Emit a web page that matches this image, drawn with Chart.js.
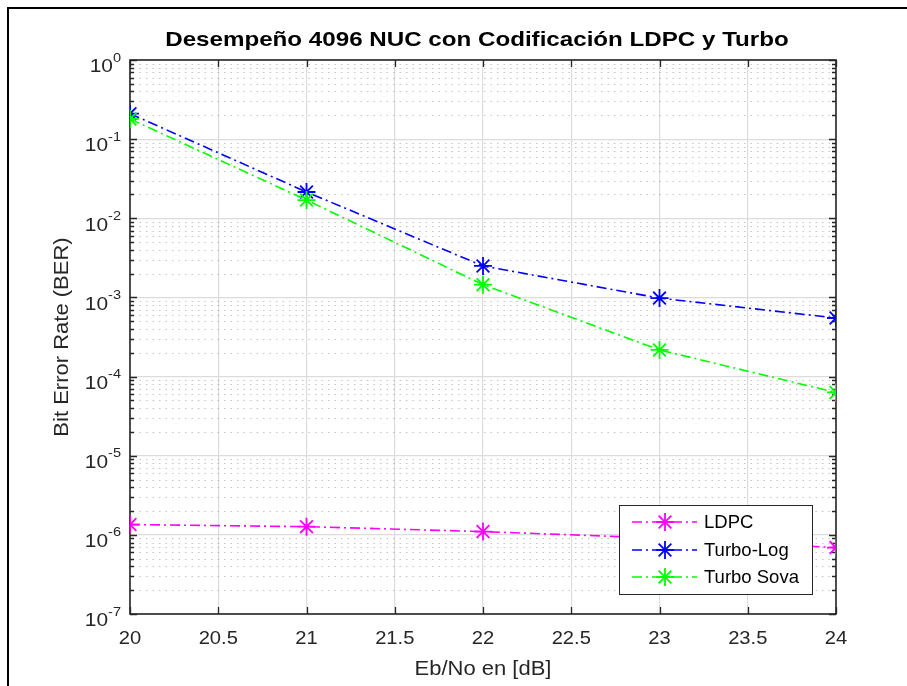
<!DOCTYPE html>
<html>
<head>
<meta charset="utf-8">
<script src="https://cdn.jsdelivr.net/npm/chart.js@4/dist/chart.umd.min.js"></script>
<style>
  html, body { margin: 0; padding: 0; background: #ffffff; }
  #wrap { width: 907px; height: 686px; position: relative; }
</style>
</head>
<body>
<div id="wrap"><canvas id="c" width="907" height="686"></canvas></div>
<script>
// Eb/No points (dB)
const ebno = [20, 21, 22, 23, 24];
// Bit error rate per coding scheme
const berLdpc = [1.35e-6, 1.27e-6, 1.1e-6, 9.1e-7, 6.9e-7];
const berTurboLog = [0.21, 0.0215, 0.0025, 9.8e-4, 5.5e-4];
const berTurboSova = [0.18, 0.017, 0.00145, 2.17e-4, 6.3e-5];

const seriesNames = ['LDPC', 'Turbo-Log', 'Turbo Sova'];
const seriesColors = ['#ff00ff', '#0000ff', '#00ff00'];

// Axis ticks
const xTicks = [20, 20.5, 21, 21.5, 22, 22.5, 23, 23.5, 24];
const yExponents = [0, -1, -2, -3, -4, -5, -6, -7];

const titleText = 'Desempeño 4096 NUC con Codificación LDPC y Turbo';
const xTitle = 'Eb/No en [dB]';
const yTitle = 'Bit Error Rate (BER)';

const AXIS = '#262626';
const FONT = '"Liberation Sans", Arial, Helvetica, sans-serif';
const DASH = [10, 4, 2, 4];

function toPoints(arr) { return ebno.map((x, i) => ({ x: x, y: arr[i] })); }

function makeSet(i, arr, order) {
  return {
    label: seriesNames[i],
    data: toPoints(arr),
    borderColor: seriesColors[i],
    backgroundColor: seriesColors[i],
    borderWidth: 1.6,
    borderDash: DASH,
    pointStyle: 'star',
    pointRadius: 9,
    pointHoverRadius: 9,
    pointBorderWidth: 1.8,
    pointBorderColor: seriesColors[i],
    tension: 0,
    fill: false,
    order: order
  };
}

// text helper with optional horizontal stretch
function text(ctx, str, x, y, font, align, sx) {
  ctx.save();
  ctx.font = font;
  ctx.textBaseline = 'middle';
  ctx.textAlign = 'left';
  const w = ctx.measureText(str).width * sx;
  let left = x;
  if (align === 'center') left = x - w / 2;
  else if (align === 'right') left = x - w;
  ctx.translate(left, y);
  ctx.scale(sx, 1);
  ctx.fillText(str, 0, 0);
  ctx.restore();
  return w;
}

function star(ctx, x, y, r, color) {
  ctx.save();
  ctx.strokeStyle = color;
  ctx.lineWidth = 1.8;
  ctx.setLineDash([]);
  ctx.beginPath();
  ctx.moveTo(x - r, y); ctx.lineTo(x + r, y);
  ctx.moveTo(x, y - r); ctx.lineTo(x, y + r);
  const d = r * Math.SQRT1_2;
  ctx.moveTo(x - d, y - d); ctx.lineTo(x + d, y + d);
  ctx.moveTo(x - d, y + d); ctx.lineTo(x + d, y - d);
  ctx.stroke();
  ctx.restore();
}

const figurePlugin = {
  id: 'figureDecor',
  beforeDraw(chart) {
    const ctx = chart.ctx;
    ctx.save();
    ctx.fillStyle = '#ffffff';
    ctx.fillRect(0, 0, chart.width, chart.height);
    // figure frame
    ctx.strokeStyle = '#000000';
    ctx.lineWidth = 2;
    ctx.strokeRect(8, 8, 1200, 1200);
    ctx.restore();
  },
  beforeDatasetsDraw(chart) {
    const ctx = chart.ctx;
    const xs = chart.scales.x, ys = chart.scales.y;
    const a = chart.chartArea;
    ctx.save();
    // minor dotted grid on the log axis
    ctx.strokeStyle = 'rgba(110,110,110,0.4)';
    ctx.lineWidth = 1;
    ctx.setLineDash([1.5, 5]);
    for (let e = -7; e < 0; e++) {
      for (let m = 2; m <= 9; m++) {
        const py = Math.round(ys.getPixelForValue(m * Math.pow(10, e))) + 0.5;
        ctx.beginPath();
        ctx.moveTo(a.left + 3, py);
        ctx.lineTo(a.right, py);
        ctx.stroke();
      }
    }
    ctx.setLineDash([]);
    // axes box
    ctx.strokeStyle = AXIS;
    ctx.lineWidth = 1.6;
    ctx.strokeRect(a.left, a.top, a.right - a.left, a.bottom - a.top);
    // inward ticks
    ctx.lineWidth = 1.3;
    ctx.beginPath();
    xTicks.forEach(v => {
      const px = Math.round(xs.getPixelForValue(v)) + 0.5;
      ctx.moveTo(px, a.bottom); ctx.lineTo(px, a.bottom - 7);
      ctx.moveTo(px, a.top); ctx.lineTo(px, a.top + 7);
    });
    for (let e = -7; e <= 0; e++) {
      const py = Math.round(ys.getPixelForValue(Math.pow(10, e))) + 0.5;
      ctx.moveTo(a.left, py); ctx.lineTo(a.left + 7, py);
      ctx.moveTo(a.right, py); ctx.lineTo(a.right - 7, py);
      if (e < 0) {
        for (let m = 2; m <= 9; m++) {
          const q = Math.round(ys.getPixelForValue(m * Math.pow(10, e))) + 0.5;
          ctx.moveTo(a.left, q); ctx.lineTo(a.left + 4, q);
          ctx.moveTo(a.right, q); ctx.lineTo(a.right - 4, q);
        }
      }
    }
    ctx.stroke();
    ctx.restore();
  },
  afterDraw(chart) {
    const ctx = chart.ctx;
    const xs = chart.scales.x, ys = chart.scales.y;
    const a = chart.chartArea;
    ctx.save();
    ctx.fillStyle = '#262626';
    // x tick labels
    xTicks.forEach(v => {
      text(ctx, String(v), xs.getPixelForValue(v), a.bottom + 25, '18px ' + FONT, 'center', 1.12);
    });
    // y tick labels 10^e
    yExponents.forEach(e => {
      const py = ys.getPixelForValue(Math.pow(10, e));
      const expStr = e === 0 ? '0' : '-' + Math.abs(e);
      const ew = text(ctx, expStr, a.left - 9, py - 2, '13px ' + FONT, 'right', 1.12);
      text(ctx, '10', a.left - 9 - ew, py + 7, '19px ' + FONT, 'right', 1.1);
    });
    // axis titles
    text(ctx, xTitle, (a.left + a.right) / 2, a.bottom + 55, '20px ' + FONT, 'center', 1.1);
    ctx.save();
    ctx.translate(62, (a.top + a.bottom) / 2);
    ctx.rotate(-Math.PI / 2);
    text(ctx, yTitle, 0, 0, '20px ' + FONT, 'center', 1.1);
    ctx.restore();
    // title
    ctx.fillStyle = '#000000';
    text(ctx, titleText, 477, 40, 'bold 21px ' + FONT, 'center', 1.15);

    // legend
    const lx = 619, ly = 505, lw = 193, lh = 89;
    ctx.fillStyle = '#ffffff';
    ctx.fillRect(lx, ly, lw, lh);
    ctx.strokeStyle = AXIS;
    ctx.lineWidth = 1;
    ctx.strokeRect(lx + 0.5, ly + 0.5, lw, lh);
    const rows = [522, 550, 577];
    seriesNames.forEach((name, i) => {
      const ry = rows[i];
      ctx.save();
      ctx.strokeStyle = seriesColors[i];
      ctx.lineWidth = 1.6;
      ctx.setLineDash(DASH);
      ctx.beginPath();
      ctx.moveTo(632, ry); ctx.lineTo(697, ry);
      ctx.stroke();
      ctx.restore();
      star(ctx, 665, ry, 9, seriesColors[i]);
      ctx.fillStyle = '#000000';
      text(ctx, name, 704, ry + 1, '18.5px ' + FONT, 'left', 1.0);
    });
    ctx.restore();
  }
};

const chart = new Chart(document.getElementById('c'), {
  type: 'line',
  data: {
    datasets: [
      makeSet(0, berLdpc, 2),
      makeSet(1, berTurboLog, 1),
      makeSet(2, berTurboSova, 0)
    ]
  },
  options: {
    responsive: false,
    animation: false,
    events: [],
    layout: { padding: { left: 130, top: 60, right: 71, bottom: 72 } },
    plugins: { legend: { display: false }, title: { display: false }, tooltip: { enabled: false } },
    scales: {
      x: {
        type: 'linear', min: 20, max: 24,
        afterFit(s) { s.height = 0; },
        afterBuildTicks(s) { s.ticks = xTicks.map(v => ({ value: v })); },
        ticks: { display: false },
        border: { display: false },
        grid: { color: '#dcdcdc', lineWidth: 1.2, drawTicks: false }
      },
      y: {
        type: 'logarithmic', min: 1e-7, max: 1,
        afterFit(s) { s.width = 0; },
        afterBuildTicks(s) { s.ticks = yExponents.map(e => ({ value: Math.pow(10, e) })); },
        ticks: { display: false },
        border: { display: false },
        grid: { color: '#dcdcdc', lineWidth: 1.2, drawTicks: false }
      }
    }
  },
  plugins: [figurePlugin]
});
</script>
</body>
</html>
